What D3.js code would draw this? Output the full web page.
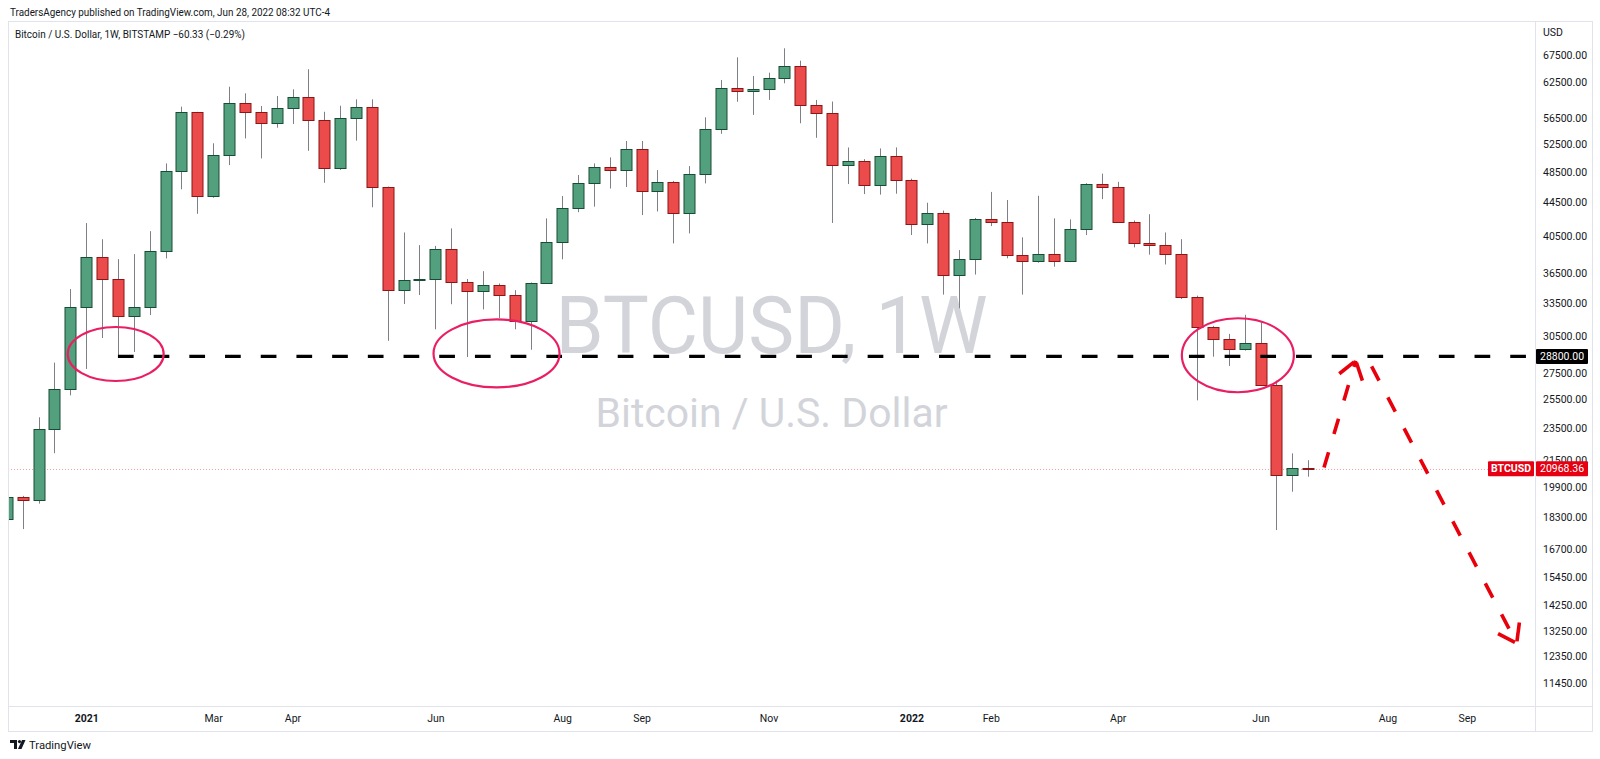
<!DOCTYPE html>
<html><head><meta charset="utf-8">
<script src="https://cdn.jsdelivr.net/npm/d3@7"></script>
<style>
html,body{margin:0;padding:0;background:#fff;overflow:hidden;}
svg{display:block;}
text{font-family:Roboto,"Noto Sans",sans-serif;}
</style></head><body>
<svg id="chart" width="1600" height="759"></svg>
<script>
// ---------------- DATA ----------------
const weekStarts = [
"2020-11-30","2020-12-07","2020-12-14","2020-12-21","2020-12-28",
"2021-01-04","2021-01-11","2021-01-18","2021-01-25","2021-02-01","2021-02-08","2021-02-15","2021-02-22",
"2021-03-01","2021-03-08","2021-03-15","2021-03-22","2021-03-29","2021-04-05","2021-04-12","2021-04-19","2021-04-26",
"2021-05-03","2021-05-10","2021-05-17","2021-05-24","2021-05-31","2021-06-07","2021-06-14","2021-06-21","2021-06-28",
"2021-07-05","2021-07-12","2021-07-19","2021-07-26","2021-08-02","2021-08-09","2021-08-16","2021-08-23","2021-08-30",
"2021-09-06","2021-09-13","2021-09-20","2021-09-27","2021-10-04","2021-10-11","2021-10-18","2021-10-25","2021-11-01",
"2021-11-08","2021-11-15","2021-11-22","2021-11-29","2021-12-06","2021-12-13","2021-12-20","2021-12-27",
"2022-01-03","2022-01-10","2022-01-17","2022-01-24","2022-01-31","2022-02-07","2022-02-14","2022-02-21","2022-02-28",
"2022-03-07","2022-03-14","2022-03-21","2022-03-28","2022-04-04","2022-04-11","2022-04-18","2022-04-25","2022-05-02",
"2022-05-09","2022-05-16","2022-05-23","2022-05-30","2022-06-06","2022-06-13","2022-06-20","2022-06-27"];

const opens = [18180,19370,19190,23450,26250,
33130,38140,35840,32290,33130,38790,48630,57470,45320,50870,59000,57430,55760,58070,60010,56190,49080,
56560,58240,46440,34740,35700,35850,39010,35550,34660,35250,34260,31840,35430,39820,43850,46960,49140,48770,
51740,45990,47180,43230,48220,54750,61460,61050,61340,63340,65460,58600,57360,49460,50060,46730,50770,
47390,41850,43150,36260,37960,42430,42070,38360,37710,38480,37730,41240,46870,46450,42070,39710,39500,38470,
34040,31330,30270,29420,29880,26550,20590,21040];

const highs = [19900,19420,24250,28300,34850,
41990,40110,37920,38460,41040,49700,58340,57500,52610,61730,60590,58450,60130,61280,64860,57510,58500,
59570,59570,46550,40890,39450,39370,41360,35850,36650,35400,34740,35500,42550,45330,48100,49700,50550,52950,
52950,48770,47300,49320,56620,62920,67080,63640,64230,68810,66440,59470,59200,51990,50300,51850,52000,
47600,44470,43500,38900,42600,45850,44820,40330,45360,42550,42430,47000,48280,47180,42300,43050,40890,40120,
34200,31400,30700,32400,31700,26900,21900,21480];

const lows = [18000,17680,19000,21910,25800,
27800,30340,28830,29170,32380,38000,46200,43100,45100,49460,53340,50410,54980,55560,51500,47050,48800,
53000,43900,30100,33400,34260,31100,33380,28750,32900,32100,31100,29350,35350,37900,43300,43980,46290,46500,
42950,43380,39640,40780,46970,54030,59160,57000,59470,62330,55670,53430,42000,46880,45570,45500,45620,
40590,39640,34300,33000,36300,41630,38010,34300,37540,37110,37600,40590,44930,42000,39200,38400,37350,33880,
25440,28780,28040,29280,26500,17630,19650,20500];

const closes = [19370,19190,23450,26250,33130,
38140,35840,32290,33130,38790,48630,57470,45320,50870,59000,57430,55760,58070,60010,56190,49080,56560,
58240,46440,34740,35700,35850,39010,35550,34660,35250,34260,31840,35430,39820,43850,46960,49140,48770,51740,
45990,47180,43230,48220,54750,61460,61050,61340,63340,65460,58600,57360,49460,50060,46730,50770,47390,
41850,43150,36260,37960,42430,42070,38360,37710,38480,37730,41240,46870,46450,42070,39710,39500,38470,34040,
31330,30270,29420,29880,26550,20590,21040,20968.36];

const priceTicks = [67500,62500,56500,52500,48500,44500,40500,36500,33500,30500,27500,25500,23500,21500,19900,18300,16700,15450,14250,13250,12350,11450];
const timeTickDates = ["2021-01-04","2021-03-01","2021-04-05","2021-06-07","2021-08-02","2021-09-06","2021-11-01","2022-01-03","2022-02-07","2022-04-04","2022-06-06","2022-08-01","2022-09-05"];
const timeTickLabels = ["2021","Mar","Apr","Jun","Aug","Sep","Nov","2022","Feb","Apr","Jun","Aug","Sep"];

const lastPrice = 20968.36;
const levelPrice = 28800;
const levelStart = "2021-01-18";

// annotation ellipses: center week, center price
const ellipseDates = ["2021-01-17","2021-07-04","2022-05-27"];
const ellipsePrices = [29000,29050,28900];
const ellipseRX = [48,63,56];
const ellipseRY = [27,34,37];

// projected path (arrows): from date/price -> to date/price
const arrowFromDates = ["2022-07-04","2022-07-25"];
const arrowFromPrices = [21040,28000];
const arrowToDates = ["2022-07-18","2022-09-27"];
const arrowToPrices = [28460,12800];

// ---------------- LAYOUT ----------------
const svg = d3.select("#chart");
const paneL = 8, paneR = 1535, paneT = 21, paneB = 706, axisR = 1592, frameB = 731;
const parse = d3.utcParse("%Y-%m-%d");

const x = d3.scaleUtc()
  .domain([parse("2021-01-04"), parse("2022-01-03")])
  .range([86.2, 911.4]);
const y = d3.scaleLog()
  .domain([11450, 67500])
  .range([682.8, 55.1]);

const candles = weekStarts.map((d,i)=>({date:parse(d),o:opens[i],h:highs[i],l:lows[i],c:closes[i]}));

const UP_FILL="#53a07f", UP_STROKE="#184d35", DN_FILL="#eb4b4b", DN_STROKE="#8e1515", WICK="#7f8087";

// background & frame
svg.append("rect").attr("width",1600).attr("height",759).attr("fill","#fff");
svg.append("rect").attr("x",paneL+0.5).attr("y",paneT+0.5).attr("width",axisR-paneL).attr("height",frameB-paneT)
  .attr("fill","none").attr("stroke","#e0e3eb");
svg.append("line").attr("x1",paneR+0.5).attr("x2",paneR+0.5).attr("y1",paneT).attr("y2",frameB).attr("stroke","#e0e3eb");
svg.append("line").attr("x1",paneL).attr("x2",axisR).attr("y1",paneB+0.5).attr("y2",paneB+0.5).attr("stroke","#e0e3eb");

svg.append("defs").append("clipPath").attr("id","pane")
  .append("rect").attr("x",paneL+1).attr("y",paneT+1).attr("width",paneR-paneL-1).attr("height",paneB-paneT-1);

// watermark
const wm = svg.append("g").attr("fill","#d2d4da");
wm.append("text").attr("x",(paneL+paneR)/2).attr("y",353).attr("text-anchor","middle")
  .attr("font-size",80).attr("textLength",432).attr("lengthAdjust","spacingAndGlyphs").text("BTCUSD, 1W");
wm.append("text").attr("x",(paneL+paneR)/2).attr("y",427).attr("text-anchor","middle")
  .attr("font-size",40).attr("textLength",352).attr("lengthAdjust","spacingAndGlyphs").text("Bitcoin / U.S. Dollar");

const plot = svg.append("g").attr("clip-path","url(#pane)");

// last price dotted line
plot.append("line").attr("x1",paneL).attr("x2",paneR).attr("y1",Math.round(y(lastPrice))+0.5).attr("y2",Math.round(y(lastPrice))+0.5)
  .attr("stroke","#f5a0a6").attr("stroke-dasharray","1,2");

// candles
const cg = plot.append("g");
candles.forEach(d=>{
  const cx = Math.round(x(d.date))+0.5;
  const up = d.c >= d.o;
  cg.append("line").attr("x1",cx).attr("x2",cx).attr("y1",y(d.h)).attr("y2",y(d.l))
    .attr("stroke",WICK).attr("stroke-width",1);
  const top = y(Math.max(d.o,d.c)), bot = y(Math.min(d.o,d.c));
  cg.append("rect").attr("x",cx-5.5).attr("y",Math.round(top)+0.5).attr("width",11)
    .attr("height",Math.max(1,Math.round(bot)-Math.round(top)))
    .attr("fill",up?UP_FILL:DN_FILL).attr("stroke",up?UP_STROKE:DN_STROKE).attr("stroke-width",1);
});

// 28800 level
const ly = y(levelPrice);
plot.append("line").attr("x1",x(parse(levelStart))).attr("x2",paneR).attr("y1",ly).attr("y2",ly)
  .attr("stroke","#000").attr("stroke-width",3.2).attr("stroke-dasharray","15.7,20");

// ellipses
ellipseDates.forEach((d,i)=>{
  plot.append("ellipse").attr("cx",x(parse(d))).attr("cy",y(ellipsePrices[i]))
    .attr("rx",ellipseRX[i]).attr("ry",ellipseRY[i])
    .attr("fill","none").attr("stroke","#e91e63").attr("stroke-width",2.2);
});

// arrows
const RED="#e8000b";
arrowFromDates.forEach((d,i)=>{
  const x0=x(parse(d)), y0=y(arrowFromPrices[i]), x1=x(parse(arrowToDates[i])), y1=y(arrowToPrices[i]);
  plot.append("line").attr("x1",x0).attr("y1",y0).attr("x2",x1).attr("y2",y1)
    .attr("stroke",RED).attr("stroke-width",3.6).attr("stroke-dasharray","16,19");
  const ang = Math.atan2(y0-y1,x0-x1);
  [35,-35].forEach(a=>{
    const t = ang + a*Math.PI/180;
    plot.append("line").attr("x1",x1+2*Math.cos(t)).attr("y1",y1+2*Math.sin(t)).attr("x2",x1+21*Math.cos(t)).attr("y2",y1+21*Math.sin(t))
      .attr("stroke",RED).attr("stroke-width",3.6);
  });
});

// price axis
const yAxis = d3.axisRight(y).tickValues(priceTicks).tickFormat(d3.format(".2f")).tickSize(0).tickPadding(8);
const yg = svg.append("g").attr("transform",`translate(${paneR},0)`).call(yAxis);
yg.select(".domain").remove();
yg.selectAll("text").attr("font-size",10.5).attr("fill","#131722").attr("font-family","Roboto,sans-serif");
svg.append("text").attr("x",paneR+8).attr("y",33).attr("dy","0.32em").attr("font-size",10.5).attr("fill","#131722").text("USD");

// time axis
const tDates = timeTickDates.map(parse);
const xAxis = d3.axisBottom(x).tickValues(tDates).tickFormat((d,i)=>timeTickLabels[i]).tickSize(0).tickPadding(9);
const xg = svg.append("g").attr("transform",`translate(0,${paneB})`).call(xAxis);
xg.select(".domain").remove();
xg.selectAll("text").attr("font-size",10.5).attr("fill","#131722").attr("font-family","Roboto,sans-serif")
  .attr("font-weight",(d,i)=>/^\d{4}$/.test(timeTickLabels[i])?"bold":"normal");

// level label
svg.append("rect").attr("x",paneR+1).attr("y",ly-7.5).attr("width",52).attr("height",15).attr("fill","#000").attr("rx",1);
svg.append("text").attr("x",paneR+5).attr("y",ly).attr("dy","0.35em").attr("font-size",10.5).attr("fill","#fff").text(d3.format(".2f")(levelPrice));

// last price label
const lpy = y(lastPrice);
svg.append("rect").attr("x",paneR-47).attr("y",lpy-7.5).attr("width",46).attr("height",15).attr("fill","#e60012").attr("rx",1);
svg.append("text").attr("x",paneR-24).attr("y",lpy).attr("dy","0.35em").attr("text-anchor","middle")
  .attr("font-size",10.5).attr("font-weight","bold").attr("fill","#fff").text("BTCUSD");
svg.append("rect").attr("x",paneR+1).attr("y",lpy-7.5).attr("width",52).attr("height",15).attr("fill","#e60012").attr("rx",1);
svg.append("text").attr("x",paneR+5).attr("y",lpy).attr("dy","0.35em").attr("font-size",10.5).attr("fill","#fff").text(d3.format(".2f")(lastPrice));

// header texts
svg.append("text").attr("x",10).attr("y",16).attr("font-size",11.5).attr("fill","#131722")
  .attr("textLength",320).attr("lengthAdjust","spacingAndGlyphs")
  .text("TradersAgency published on TradingView.com, Jun 28, 2022 08:32 UTC-4");
svg.append("text").attr("x",15).attr("y",38).attr("font-size",10.5).attr("fill","#131722")
  .attr("textLength",230).attr("lengthAdjust","spacingAndGlyphs")
  .text("Bitcoin / U.S. Dollar, 1W, BITSTAMP  \u221260.33 (\u22120.29%)");

// TradingView logo
const lg = svg.append("g").attr("transform","translate(10,740)").attr("fill","#131722");
lg.append("path").attr("d","M0,0 H7 V9 H4 V3 H0 Z");
lg.append("circle").attr("cx",9.5).attr("cy",1.6).attr("r",1.6);
lg.append("path").attr("d","M8,9 L12,0 H15.5 L11.5,9 Z");
svg.append("text").attr("x",29).attr("y",749).attr("font-size",11.5).attr("fill","#131722")
  .attr("textLength",62).attr("lengthAdjust","spacingAndGlyphs").text("TradingView");
</script>
</body></html>
